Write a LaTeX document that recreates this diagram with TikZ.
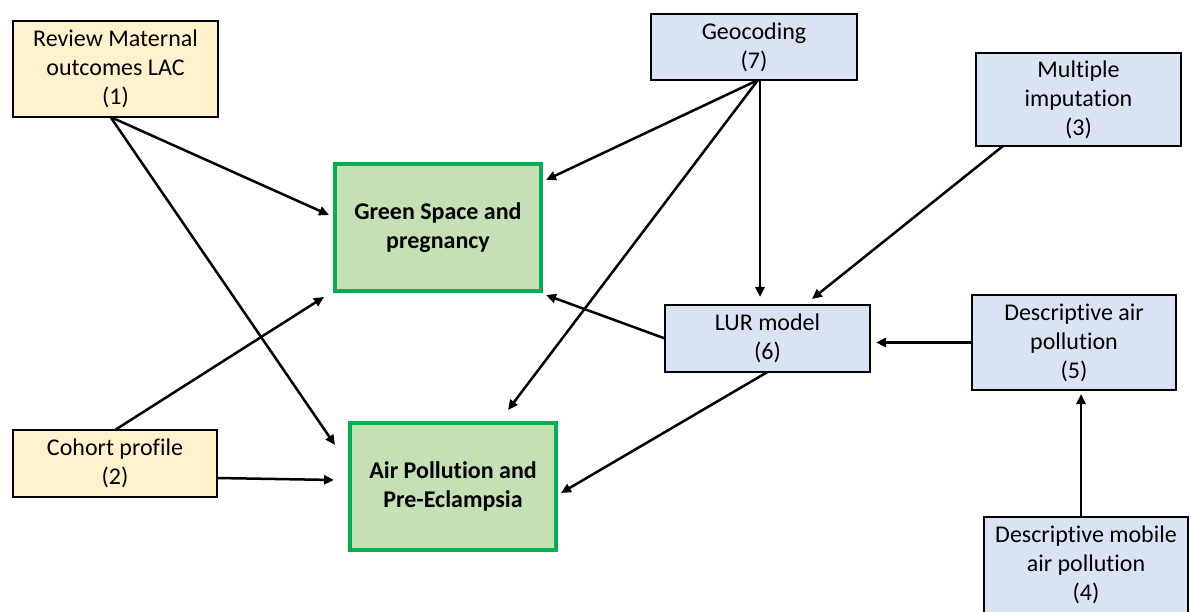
\documentclass[tikz,border=0pt]{standalone}
\usepackage{fontspec}
\setmainfont{Carlito}[Ligatures={NoCommon}]
\usetikzlibrary{arrows.meta}
\definecolor{yfill}{HTML}{FFF2CC}
\definecolor{bfill}{HTML}{DAE3F3}
\definecolor{gfill}{HTML}{C5E0B4}
\definecolor{gline}{HTML}{00B050}
\tikzset{
  basebox/.style={rectangle, inner sep=0pt, outer sep=0pt, align=center,
    font=\fontsize{24}{29}\selectfont, text=black,
    execute at begin node={\vspace*{4pt}}},
  ybox/.style={basebox, draw=black, line width=2.8pt, fill=yfill},
  bbox/.style={basebox, draw=black, line width=2.8pt, fill=bfill},
  gbox/.style={basebox, draw=gline, line width=4.5pt, fill=gfill, font=\fontsize{24}{29}\selectfont\bfseries},
  conn/.style={line width=2.5pt, -{Triangle[length=10pt,width=9pt]}}
}
\begin{document}
\begin{tikzpicture}[x=1pt,y=-1pt]
\useasboundingbox (0,0) rectangle (1191,612);
\clip (0,0) rectangle (1191,612);
% nodes
\node[ybox, minimum width=205pt, minimum height=96pt] (rev) at (115.5,69) {Review Maternal\\outcomes LAC\\(1)};
\node[ybox, minimum width=204pt, minimum height=67pt] (coh) at (115,463.5) {Cohort profile\\(2)};
\node[gbox, minimum width=206pt, minimum height=127pt] (gs) at (438,227.5) {Green Space and\\pregnancy};
\node[gbox, minimum width=206pt, minimum height=127pt] (air) at (453,486.5) {Air Pollution and\\Pre-Eclampsia};
\node[bbox, minimum width=206pt, minimum height=66pt] (geo) at (754,47) {Geocoding\\(7)};
\node[bbox, minimum width=205pt, minimum height=93pt] (mul) at (1078.5,99.5) {Multiple\\imputation\\(3)};
\node[bbox, minimum width=205pt, minimum height=67pt] (lur) at (767.5,338.5) {LUR model\\(6)};
\node[bbox, minimum width=204pt, minimum height=95pt] (da) at (1074,342.5) {Descriptive air\\pollution\\(5)};
\node[bbox, minimum width=204pt, minimum height=96pt] (mob) at (1086,565) {Descriptive mobile\\air pollution\\(4)};
% connectors
\draw[conn] ([shift={(-5,0)}]rev.south) -- ([shift={(-6,-12.5)}]gs.west);
\draw[conn] ([shift={(-5,0)}]rev.south) -- ([shift={(-15,22)}]air.north west);
\draw[conn] (coh.north) -- ([shift={(-11,6)}]gs.south west);
\draw[conn] ([shift={(0,14.5)}]coh.east) -- ([shift={(-16,-6.5)}]air.west);
\draw[conn] ([shift={(4,0)}]geo.south) -- ([shift={(5,16)}]gs.north east);
\draw[conn] ([shift={(4,0)}]geo.south) -- ([shift={(55,-13)}]air.north);
\draw[conn] ([shift={(6,0)}]geo.south) -- ([shift={(-7.5,-8)}]lur.north);
\draw[conn] ([shift={(-75.5,0)}]mul.south) -- ([shift={(44.5,-6)}]lur.north);
\draw[conn] (lur.west) -- ([shift={(5,4)}]gs.south east);
\draw[conn] (lur.south) -- ([shift={(5,6.5)}]air.east);
\draw[conn] (da.west) -- ([shift={(6,4)}]lur.east);
\draw[conn] ([shift={(-5,0)}]mob.north) -- ([shift={(7,4)}]da.south);
\end{tikzpicture}
\end{document}
